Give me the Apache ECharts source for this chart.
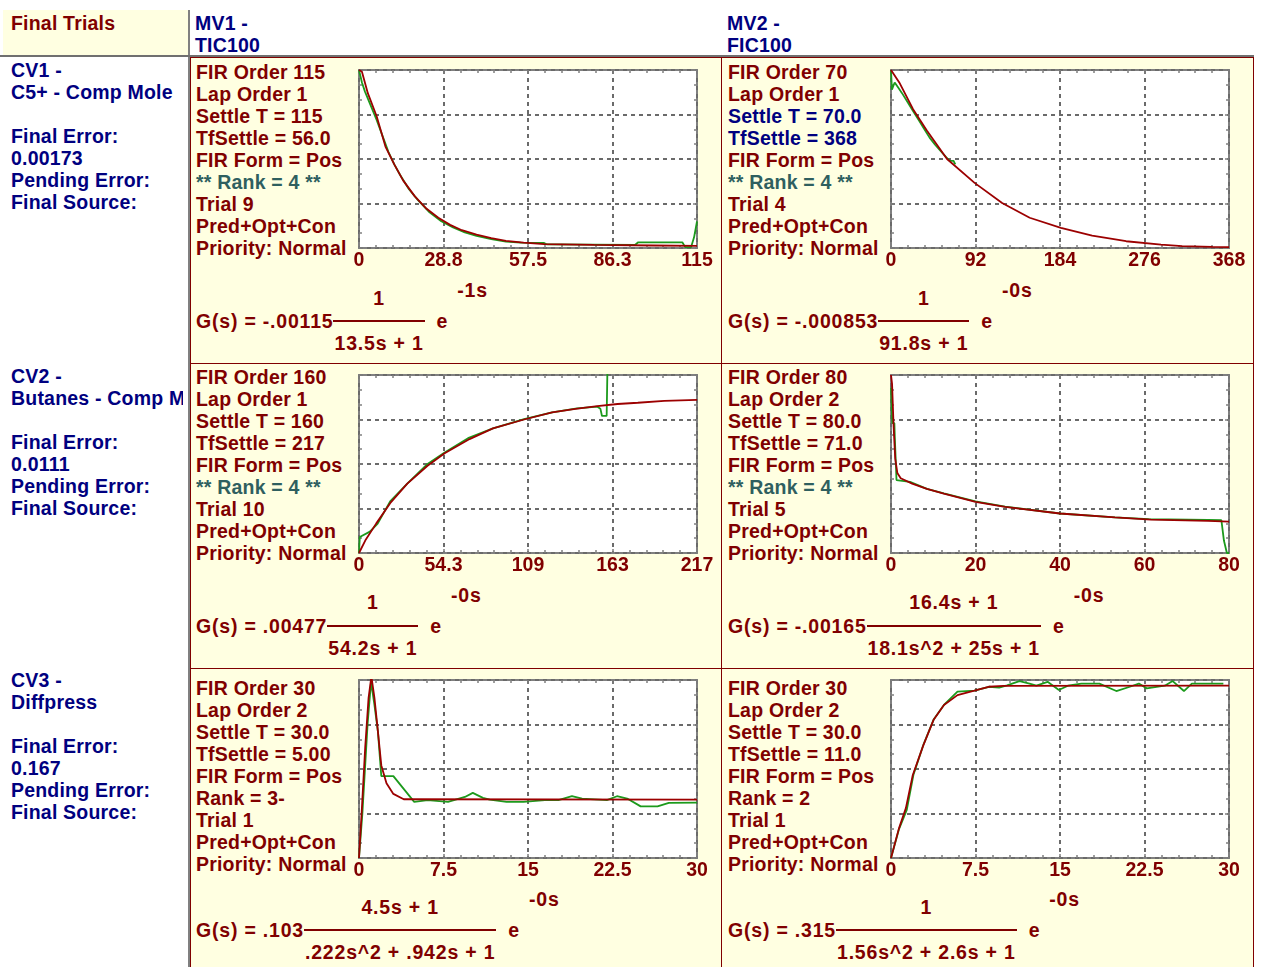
<!DOCTYPE html>
<html>
<head>
<meta charset="utf-8">
<script src="https://cdn.jsdelivr.net/npm/echarts@6/dist/echarts.min.js"></script>
<style>
  body { margin: 0; background: #fff; }
  #page { position: relative; width: 1261px; height: 967px; overflow: hidden;
          font-family: "Liberation Sans", Arial, sans-serif; font-weight: bold;
          font-size: 19.5px; line-height: 22px; }
  .box { position: absolute; box-sizing: border-box; }
  .cell { position: absolute; box-sizing: border-box; border: 1px solid #800000; background: #ffffe1; }
  .red { color: #800000; }
  .blue { color: #000080; }
  .teal { color: #2f5f5f; }
  .txt { position: absolute; white-space: pre; letter-spacing: 0.2px; }
  .side { position: absolute; left: 11px; width: 172px; overflow: hidden; white-space: pre; color: #000080; letter-spacing: 0.2px; }
  .eq { position: absolute; display: flex; align-items: flex-start; color: #800000; white-space: pre; letter-spacing: 0.8px; }
  .frac { display: flex; flex-direction: column; align-items: center; }
  .frac .bar { align-self: stretch; height: 2px; background: #800000; margin-top: 11.5px; }
  .frac .den { margin-top: 10px; padding: 0 1px; }
  .eq .g { margin-top: 23.5px; }
  .eq .e { margin-top: 23.5px; margin-left: 12px; }
  .eq .x { margin-top: -7.5px; margin-left: 9px; }
  #chart { position: absolute; left: 0; top: 0; width: 1261px; height: 967px; }
</style>
</head>
<body>
<div id="page">
  <!-- header row -->
  <div class="box" style="left:3px;top:10px;width:185px;height:46px;background:#ffffe1;"></div>
  <div class="box" style="left:188px;top:10px;width:2px;height:957px;background:#808080;"></div>
  <div class="box" style="left:0;top:55px;width:1254px;height:2px;background:#707070;"></div>
  <div class="txt red" style="left:11px;top:12px;">Final Trials</div>
  <div class="txt blue" style="left:195px;top:12px;">MV1 -
TIC100</div>
  <div class="txt blue" style="left:727px;top:12px;">MV2 -
FIC100</div>

  <!-- cells -->
  <div class="cell" style="left:190px;top:57px;width:532px;height:307px;"></div>
  <div class="cell" style="left:721px;top:57px;width:533px;height:307px;"></div>
  <div class="cell" style="left:190px;top:363px;width:532px;height:306px;"></div>
  <div class="cell" style="left:721px;top:363px;width:533px;height:306px;"></div>
  <div class="cell" style="left:190px;top:668px;width:532px;height:310px;"></div>
  <div class="cell" style="left:721px;top:668px;width:533px;height:310px;"></div>

  <!-- left column -->
  <div class="side" style="top:59px;">CV1 -
C5+ - Comp Mole

Final Error:
0.00173
Pending Error:
Final Source:</div>
  <div class="side" style="top:365px;">CV2 -
Butanes - Comp Mole

Final Error:
0.0111
Pending Error:
Final Source:</div>
  <div class="side" style="top:669px;">CV3 -
Diffpress

Final Error:
0.167
Pending Error:
Final Source:</div>

  <!-- cell texts -->
  <div class="txt red" style="left:196px;top:61px;">FIR Order 115
Lap Order 1
Settle T = 115
TfSettle = 56.0
FIR Form = Pos
<span class="teal">** Rank = 4 **</span>
Trial 9
Pred+Opt+Con
Priority: Normal</div>
  <div class="txt red" style="left:728px;top:61px;">FIR Order 70
Lap Order 1
<span class="blue">Settle T = 70.0</span>
<span class="blue">TfSettle = 368</span>
FIR Form = Pos
<span class="teal">** Rank = 4 **</span>
Trial 4
Pred+Opt+Con
Priority: Normal</div>
  <div class="txt red" style="left:196px;top:366px;">FIR Order 160
Lap Order 1
Settle T = 160
TfSettle = 217
FIR Form = Pos
<span class="teal">** Rank = 4 **</span>
Trial 10
Pred+Opt+Con
Priority: Normal</div>
  <div class="txt red" style="left:728px;top:366px;">FIR Order 80
Lap Order 2
Settle T = 80.0
TfSettle = 71.0
FIR Form = Pos
<span class="teal">** Rank = 4 **</span>
Trial 5
Pred+Opt+Con
Priority: Normal</div>
  <div class="txt red" style="left:196px;top:677px;">FIR Order 30
Lap Order 2
Settle T = 30.0
TfSettle = 5.00
FIR Form = Pos
Rank = 3-
Trial 1
Pred+Opt+Con
Priority: Normal</div>
  <div class="txt red" style="left:728px;top:677px;">FIR Order 30
Lap Order 2
Settle T = 30.0
TfSettle = 11.0
FIR Form = Pos
Rank = 2
Trial 1
Pred+Opt+Con
Priority: Normal</div>

  <!-- transfer functions -->
  <div class="eq" style="left:196px;top:286.5px;"><span class="g">G(s) = -.00115</span><div class="frac"><div>1</div><div class="bar"></div><div class="den">13.5s + 1</div></div><span class="e">e</span><span class="x">-1s</span></div>
  <div class="eq" style="left:728px;top:286.5px;"><span class="g">G(s) = -.000853</span><div class="frac"><div>1</div><div class="bar"></div><div class="den">91.8s + 1</div></div><span class="e">e</span><span class="x">-0s</span></div>
  <div class="eq" style="left:196px;top:591px;"><span class="g">G(s) = .00477</span><div class="frac"><div>1</div><div class="bar"></div><div class="den">54.2s + 1</div></div><span class="e">e</span><span class="x">-0s</span></div>
  <div class="eq" style="left:728px;top:591px;"><span class="g">G(s) = -.00165</span><div class="frac"><div>16.4s + 1</div><div class="bar"></div><div class="den">18.1s^2 + 25s + 1</div></div><span class="e">e</span><span class="x">-0s</span></div>
  <div class="eq" style="left:196px;top:895.5px;"><span class="g">G(s) = .103</span><div class="frac"><div>4.5s + 1</div><div class="bar"></div><div class="den">.222s^2 + .942s + 1</div></div><span class="e">e</span><span class="x">-0s</span></div>
  <div class="eq" style="left:728px;top:895.5px;"><span class="g">G(s) = .315</span><div class="frac"><div>1</div><div class="bar"></div><div class="den">1.56s^2 + 2.6s + 1</div></div><span class="e">e</span><span class="x">-0s</span></div>

  <div id="chart"></div>
</div>

<script>
// step responses, y as a fraction of the plot height
// green = FIR model, red = fitted transfer function
const fir11 = [[0,1.0],[1,0.93],[2,0.88],[4,0.8],[6,0.72],[8,0.63],[10,0.54],[12,0.47],[14,0.41],[17,0.33],[20,0.27],[24,0.2],[28,0.15],[32,0.115],[36,0.088],[40,0.068],[45,0.05],[50,0.036],[55,0.03],[63,0.028],[64,0.02],[94,0.018],[95,0.032],[110,0.032],[111,0.005],[113,0.005],[114,0.06],[115,0.15]];
const fit11 = [[0,1.0],[1,0.99],[3,0.87],[6,0.74],[9,0.57],[12,0.47],[15,0.38],[19,0.29],[23,0.22],[27,0.17],[31,0.13],[35,0.1],[40,0.075],[45,0.055],[50,0.04],[56,0.03],[63,0.022],[80,0.017],[100,0.014],[115,0.012]];
const ticks11 = ['0', '28.8', '57.5', '86.3', '115'];

const fir12 = [[0,1.0],[1,0.89],[4,0.93],[8,0.9],[12,0.87],[18,0.82],[24,0.77],[30,0.72],[36,0.67],[42,0.62],[48,0.58],[54,0.545],[60,0.51],[64,0.49],[66,0.5],[68,0.49],[70,0.47]];
const fit12 = [[0,1.0],[9,0.93],[24,0.78],[39,0.66],[61,0.5],[91,0.366],[121,0.253],[151,0.17],[185,0.113],[219,0.07],[256,0.038],[294,0.019],[317,0.01],[350,0.006],[368,0.005]];
const ticks12 = ['0', '92', '184', '276', '368'];

const fir21 = [[0,0],[0.5,0.09],[7,0.12],[12,0.165],[20,0.29],[31,0.39],[44,0.5],[55,0.565],[70,0.645],[86,0.7],[106,0.752],[124,0.79],[140,0.812],[153,0.822],[155,0.81],[156,0.77],[159,0.77],[160,1.3]];
const fit21 = [[0,0],[4,0.07],[11,0.165],[20,0.28],[31,0.39],[44,0.49],[55,0.56],[71,0.64],[86,0.7],[106,0.75],[124,0.79],[139,0.81],[153,0.825],[166,0.837],[179,0.844],[196,0.855],[217,0.86]];
const ticks21 = ['0', '54.3', '109', '163', '217'];

const fir22 = [[0,0.93],[0.3,0.73],[0.8,0.73],[0.9,0.65],[1.2,0.65],[1.3,0.41],[4.5,0.4],[8.5,0.36],[12.5,0.335],[20,0.29],[27,0.26],[40,0.222],[53,0.2],[61,0.19],[75,0.186],[78.2,0.184],[78.8,0.07],[79.5,0],[80,0]];
const fit22 = [[0,1.0],[0.25,0.95],[0.6,0.72],[1.0,0.53],[1.5,0.45],[2.3,0.42],[5,0.39],[8.5,0.36],[12.5,0.333],[20,0.287],[27,0.259],[40,0.222],[53,0.2],[61.5,0.188],[75,0.18],[80,0.176]];
const ticks22 = ['0', '20', '40', '60', '80'];

const fir31 = [[0,0],[0.3,0.25],[0.76,0.75],[1.07,0.99],[1.37,0.86],[1.68,0.71],[1.98,0.46],[2.3,0.46],[3.05,0.46],[4.9,0.315],[6.1,0.325],[7.9,0.315],[9.4,0.343],[10.1,0.366],[11,0.338],[11.6,0.328],[13.1,0.315],[14.6,0.315],[16.5,0.325],[17.7,0.325],[18.9,0.347],[19.8,0.334],[22,0.325],[22.9,0.347],[23.8,0.334],[25,0.29],[26.5,0.29],[27.5,0.31],[30,0.311]];
const fit31 = [[0,0],[0.24,0.26],[0.55,0.62],[0.85,0.9],[1.1,1.02],[1.37,0.9],[1.68,0.71],[1.98,0.52],[2.44,0.42],[3.05,0.36],[3.97,0.33],[30,0.328]];
const ticks31 = ['0', '7.5', '15', '22.5', '30'];

const fir32 = [[0,0],[0.7,0.16],[1.4,0.27],[2,0.47],[2.9,0.64],[3.8,0.78],[4.7,0.86],[5.9,0.935],[7.4,0.94],[8.7,0.962],[9.6,0.957],[10.3,0.97],[11.4,0.994],[12.3,0.98],[12.9,0.968],[13.9,0.99],[14.9,0.944],[15.7,0.968],[16.9,0.98],[18.5,0.98],[20,0.938],[21.2,0.962],[22,0.98],[22.7,0.953],[24.3,0.968],[25,0.994],[26,0.938],[26.7,0.98],[29.5,0.98]];
const fit32 = [[0,0],[0.7,0.165],[1.32,0.28],[1.93,0.465],[2.85,0.63],[3.77,0.775],[4.7,0.86],[5.9,0.915],[7.4,0.94],[8.66,0.962],[10,0.967],[30,0.968]];
const ticks32 = ['0', '7.5', '15', '22.5', '30'];

const xMax = [115, 368, 217, 80, 30, 30];

const panels = [
  { left: 359, top: 70,  fir: fir11, fit: fit11, ticks: ticks11 },
  { left: 891, top: 70,  fir: fir12, fit: fit12, ticks: ticks12 },
  { left: 359, top: 375, fir: fir21, fit: fit21, ticks: ticks21 },
  { left: 891, top: 375, fir: fir22, fit: fit22, ticks: ticks22 },
  { left: 359, top: 680, fir: fir31, fit: fit31, ticks: ticks31 },
  { left: 891, top: 680, fir: fir32, fit: fit32, ticks: ticks32 }
];

const chart = echarts.init(document.getElementById('chart'));

const tickStyle = { color: '#808080', width: 1.5 };
const gridLine = { show: true, lineStyle: { color: '#6a6a6a', type: [4, 4], width: 2 } };
const grids = [], xAxes = [], yAxes = [], series = [];

panels.forEach((p, i) => {
  const max = xMax[i];
  grids.push({
    left: p.left, top: p.top, width: 338, height: 178,
    show: true, backgroundColor: '#fff', borderColor: '#808080', borderWidth: 2
  });
  const common = {
    gridIndex: i, type: 'value', min: 0, max: max, interval: max / 4,
    axisLine: { show: false, onZero: false },
    axisTick: { show: true, inside: true, length: 4, lineStyle: tickStyle },
    minorTick: { show: true, splitNumber: 5, length: 3, lineStyle: tickStyle }
  };
  xAxes.push(Object.assign({}, common, {
    position: 'bottom',
    splitLine: gridLine,
    axisLabel: {
      showMinLabel: true, showMaxLabel: true, margin: 3,
      color: '#800000', fontFamily: 'Liberation Sans', fontWeight: 'bold', fontSize: 19.5,
      formatter: v => p.ticks[Math.round(v / (max / 4))]
    }
  }));
  xAxes.push(Object.assign({}, common, {
    position: 'top', splitLine: { show: false }, axisLabel: { show: false }
  }));
  const ycommon = Object.assign({}, common, {
    max: 1, interval: 0.25,
    minorTick: { show: true, splitNumber: 3, length: 3, lineStyle: tickStyle },
    axisLabel: { show: false }
  });
  yAxes.push(Object.assign({}, ycommon, { position: 'left', splitLine: gridLine }));
  yAxes.push(Object.assign({}, ycommon, { position: 'right', splitLine: { show: false } }));

  series.push({
    type: 'line', xAxisIndex: 2 * i, yAxisIndex: 2 * i, data: p.fir,
    showSymbol: false, silent: true, z: 3,
    lineStyle: { color: '#1c9a1c', width: 1.8 }, itemStyle: { color: '#1c9a1c' }
  });
  series.push({
    type: 'line', xAxisIndex: 2 * i, yAxisIndex: 2 * i, data: p.fit,
    showSymbol: false, silent: true, z: 4,
    lineStyle: { color: '#9c0000', width: 1.8 }, itemStyle: { color: '#9c0000' }
  });
});

chart.setOption({
  animation: false,
  backgroundColor: 'transparent',
  grid: grids,
  xAxis: xAxes,
  yAxis: yAxes,
  series: series
});
</script>
</body>
</html>
